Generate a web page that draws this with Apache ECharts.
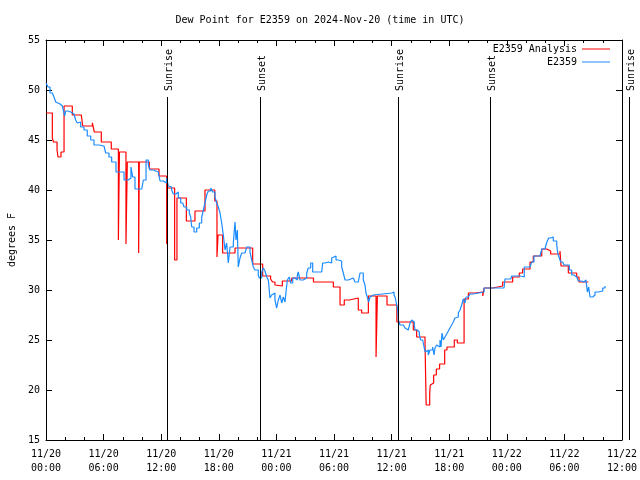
<!DOCTYPE html>
<html><head><meta charset="utf-8">
<script src="https://cdn.jsdelivr.net/npm/echarts@6/dist/echarts.min.js"></script>
<style>html,body{margin:0;padding:0;background:#fff}#c{width:640px;height:480px}</style>
</head><body><div id="c"></div>
<script>
// ---- data (hours since 2024-11-20 00:00 UTC, dew point in °F) ----
const titleText = 'Dew Point for E2359 on 2024-Nov-20 (time in UTC)';
const seriesNames = ['E2359 Analysis', 'E2359'];
const yMin = 15, yMax = 55, yStep = 5;
const xMinHours = 0, xMaxHours = 60, xStepHours = 6;
const sunEventHours = [12.64, 22.33, 36.70, 46.29, 60.72];
const sunEventLabels = ['Sunrise', 'Sunset', 'Sunrise', 'Sunset', 'Sunrise'];

const analysisData = [
[0,47.7],[0.66,45.2],[0.78,44.8],[1.15,44.0],[1.25,43.3],[1.56,43.8],[1.88,48.4],[2.74,47.5],
[3.68,47.7],[3.82,46.4],[4.83,46.7],[5.03,45.8],[5.76,44.8],[6.80,44.1],[7.54,35.0],[7.65,43.8],
[8.33,34.6],[8.47,42.8],[9.65,33.7],[9.72,42.8],[10.76,42.1],[11.77,41.4],[12.57,34.6],[12.64,40.2],
[13.40,33.0],[13.64,39.2],[14.62,36.9],[15.52,37.9],[16.56,40.0],[17.58,38.9],[17.81,33.3],[17.92,35.5],
[18.40,33.7],[19.69,34.2],[21.53,32.6],[22.57,31.4],[23.40,31.1],[23.60,30.8],[23.85,30.5],[23.96,30.4],
[24.62,30.9],[25.60,31.2],[27.86,30.8],[29.93,30.3],[30.63,28.5],[31.07,29.0],[31.59,29.2],[32.53,28.0],
[32.88,27.7],[33.58,29.4],[34.38,23.3],[34.52,29.4],[35.52,28.5],[36.55,26.8],[38.26,26.0],[38.61,25.3],
[39.48,24.8],[39.60,18.5],[39.97,19.7],[40.03,20.5],[40.21,20.7],[40.38,21.5],[40.66,22.1],[41.00,22.6],
[41.53,24.0],[41.77,24.3],[42.53,25.0],[42.85,24.7],[43.55,29.1],[44.00,29.7],[44.69,29.8],[45.50,29.4],
[45.63,30.2],[46.53,30.4],[47.57,30.8],[48.61,31.3],[49.30,31.7],[49.65,32.1],[50.42,32.8],[50.76,33.4],
[51.64,34.1],[52.16,33.9],[52.57,33.6],[53.54,33.9],[53.65,32.4],[54.41,31.7],[55.28,31.3],[55.52,30.8],
[56.49,30.8]
];

const stationData = [
[0,50.7],[0.14,50.5],[0.21,50.3],[0.42,49.7],[0.66,49.5],[0.83,49.3],[1.01,48.8],[1.18,48.6],[1.46,48.4],
[1.70,48.2],[1.88,47.7],[1.95,47.4],[2.05,47.9],[2.29,47.8],[2.57,47.7],[2.74,47.6],[2.92,47.4],[3.09,47.0],
[3.26,46.7],[3.44,46.8],[3.61,46.3],[3.96,46.0],[4.30,45.4],[4.66,45.0],[5.00,44.5],[5.52,44.4],[6.04,44.4],
[6.22,43.7],[6.56,43.3],[6.84,42.8],[7.29,41.8],[7.89,41.8],[8.13,41.0],[8.57,41.2],[8.85,42.3],[9.03,41.3],
[9.27,40.1],[9.97,40.1],[10.14,41.0],[10.42,43.0],[10.66,42.5],[10.83,42.0],[11.18,41.8],[11.70,41.7],
[11.88,40.9],[12.22,40.8],[12.40,40.7],[12.57,41.2],[12.74,40.4],[12.84,40.3],[13.09,40.0],[13.26,39.6],
[13.54,39.8],[13.78,39.2],[14.03,38.7],[14.24,38.9],[14.38,38.3],[14.66,38.0],[14.93,37.7],[15.07,37.3],
[15.18,36.3],[15.42,35.8],[15.70,36.2],[15.97,36.7],[16.22,37.3],[16.39,38.0],[16.56,38.7],[16.74,39.5],
[16.91,39.9],[17.16,40.2],[17.36,39.8],[17.60,39.3],[17.78,38.7],[17.95,38.3],[18.13,37.7],[18.30,36.7],
[18.47,35.5],[18.65,34.0],[18.82,34.7],[18.99,32.7],[19.17,34.3],[19.51,34.7],[19.69,36.8],[19.79,35.0],
[19.93,36.0],[20.03,32.3],[20.21,33.2],[20.39,33.7],[20.73,33.8],[20.91,34.3],[21.25,33.8],[21.43,33.0],
[21.59,32.3],[21.77,32.0],[22.11,31.5],[22.22,31.2],[22.47,31.8],[22.64,32.2],[22.81,31.9],[22.99,31.3],
[23.16,31.0],[23.33,29.2],[23.51,29.5],[23.68,29.7],[23.85,29.0],[24.03,28.2],[24.20,29.0],[24.38,29.5],
[24.55,28.7],[24.72,29.3],[24.90,28.8],[25.00,29.8],[25.14,31.0],[25.34,31.3],[25.49,30.7],[25.70,31.2],
[25.94,31.0],[26.18,31.5],[26.28,31.8],[26.46,31.0],[26.80,31.2],[27.16,31.7],[27.32,32.2],[27.57,32.7],
[27.78,31.8],[28.72,31.8],[28.82,32.7],[29.06,32.8],[29.41,32.7],[29.76,33.2],[29.86,33.4],[30.21,33.0],
[30.45,32.9],[30.80,32.3],[30.97,31.7],[31.15,31.0],[31.49,30.8],[31.67,31.2],[32.01,31.3],[32.19,30.8],
[32.53,30.8],[32.71,31.7],[33.05,31.0],[33.23,30.5],[33.33,29.7],[33.47,29.3],[33.61,28.8],[33.75,29.3],
[33.93,29.5],[34.09,29.7],[36.01,29.7],[36.11,29.8],[36.25,29.5],[36.39,29.2],[36.53,28.5],[36.64,28.0],
[36.70,27.0],[36.88,26.5],[37.22,26.5],[37.40,26.2],[37.57,26.0],[37.74,26.2],[37.92,26.7],[38.09,27.0],
[38.26,26.8],[38.36,26.5],[38.44,26.0],[38.68,25.8],[38.89,25.5],[39.03,25.0],[39.24,24.8],[39.38,24.3],
[39.51,23.8],[39.66,24.0],[39.82,23.5],[40.00,24.0],[40.28,24.3],[40.42,23.5],[40.52,24.2],[40.70,24.5],
[40.86,24.3],[41.04,25.0],[41.15,24.3],[41.25,25.7],[41.39,25.0],[41.56,25.3],[41.74,25.6],[41.91,25.9],
[42.08,26.2],[42.26,26.5],[42.43,26.8],[42.60,27.2],[42.78,27.3],[42.95,27.7],[43.13,28.0],[43.30,28.5],
[43.47,29.1],[43.65,28.7],[43.75,29.3],[43.99,29.4],[44.17,29.6],[44.51,29.7],[44.69,29.8],[45.63,30.2],
[47.71,30.2],[47.81,31.1],[48.41,31.1],[48.51,31.4],[49.38,31.3],[49.82,32.3],[50.42,32.3],[50.59,32.8],
[50.83,33.4],[51.46,33.4],[51.64,34.1],[51.98,34.1],[52.08,34.5],[52.22,34.9],[52.36,35.2],[52.57,35.1],
[52.71,35.3],[52.84,34.9],[53.02,34.9],[53.20,34.5],[53.30,33.7],[53.47,33.2],[53.61,32.8],[53.82,32.7],
[53.96,32.5],[54.30,32.5],[54.51,32.0],[54.76,31.5],[55.00,31.3],[55.28,31.1],[55.45,30.9],[55.80,30.8],
[56.04,31.0],[56.25,30.8],[56.39,29.8],[56.53,30.3],[56.67,29.3],[56.95,29.5],[57.19,29.8],[57.53,29.9],
[57.71,29.9],[57.99,30.2],[58.23,30.4]
];

// ---- chart ----
const FONT = '"DejaVu Sans Mono", "Liberation Mono", monospace';
const txt = {fontFamily: FONT, fontSize: 10, color: '#000'};
function pad(n){ return (n < 10 ? '0' : '') + n; }
function hourLabel(h){
  const day = 20 + Math.floor(h / 24);
  const hh = Math.round(h % 24);
  return '11/' + day + '\n' + pad(hh) + ':00';
}
const axisLine = {show: true, onZero: false, lineStyle: {color: '#000', width: 1}};
const tick = {show: true, inside: true, length: 6, lineStyle: {color: '#000'}};

const chart = echarts.init(document.getElementById('c'), null, {renderer: 'canvas'});
chart.setOption({
  animation: false,
  backgroundColor: '#fff',
  title: {text: titleText, left: 'center', top: 15, padding: 0,
    textStyle: {fontFamily: FONT, fontSize: 10, fontWeight: 'normal', color: '#000'}},
  legend: [
    {data: [seriesNames[0]], right: 30, top: 44, padding: 0, orient: 'vertical', align: 'right',
     icon: 'rect', itemWidth: 28, itemHeight: 1, textStyle: txt, selectedMode: false},
    {data: [seriesNames[1]], right: 30, top: 57, padding: 0, orient: 'vertical', align: 'right',
     icon: 'rect', itemWidth: 28, itemHeight: 1, textStyle: txt, selectedMode: false}
  ],
  grid: {left: 46, right: 18, top: 40, bottom: 40, containLabel: false, outerBoundsMode: 'none'},
  xAxis: [
    {type: 'value', min: xMinHours, max: xMaxHours, interval: xStepHours, position: 'bottom',
     axisLine: axisLine, axisTick: tick,
     minorTick: {show: true, splitNumber: 3, length: 3, lineStyle: {color: '#000'}},
     splitLine: {show: false},
     axisLabel: Object.assign({formatter: hourLabel, margin: 7, lineHeight: 14}, txt)},
    {type: 'value', min: xMinHours, max: xMaxHours, interval: xStepHours, position: 'top',
     axisLine: axisLine, axisTick: tick,
     minorTick: {show: true, splitNumber: 3, length: 3, lineStyle: {color: '#000'}},
     splitLine: {show: false}, axisLabel: {show: false}}
  ],
  yAxis: [
    {type: 'value', min: yMin, max: yMax, interval: yStep, position: 'left',
     name: 'degrees F', nameLocation: 'middle', nameGap: 29, nameRotate: 90, nameTextStyle: txt,
     axisLine: axisLine, axisTick: tick, splitLine: {show: false},
     axisLabel: Object.assign({margin: 6}, txt)},
    {type: 'value', min: yMin, max: yMax, interval: yStep, position: 'right',
     axisLine: axisLine, axisTick: tick, splitLine: {show: false}, axisLabel: {show: false}}
  ],
  series: [
    {name: seriesNames[0], type: 'line', step: 'end', data: analysisData, showSymbol: false,
     symbol: 'none', color: '#ff0000', lineStyle: {color: '#ff0000', width: 1.2}, z: 2},
    {name: seriesNames[1], type: 'line', step: 'end', data: stationData, showSymbol: false,
     symbol: 'none', color: '#1a8cff', lineStyle: {color: '#1a8cff', width: 1.2}, z: 3},
    {name: 'sun', type: 'custom', clip: false, z: 4,
     data: sunEventHours.map(function(h, i){ return [h, i]; }),
     renderItem: function(params, api){
       const cs = params.coordSys;
       const px = Math.round(api.coord([api.value(0), yMin])[0]) + 0.5;
       const label = sunEventLabels[api.value(1)];
       return {type: 'group', children: [
         {type: 'line', shape: {x1: px, y1: cs.y + cs.height, x2: px, y2: cs.y + 57},
          style: {stroke: '#000', lineWidth: 1}},
         {type: 'text', x: px + 1.5, y: cs.y + 51, rotation: Math.PI / 2,
          style: {text: label, fill: '#000', font: '10px ' + FONT, align: 'left', verticalAlign: 'middle'}}
       ]};
     }}
  ]
});
</script>
</body></html>
